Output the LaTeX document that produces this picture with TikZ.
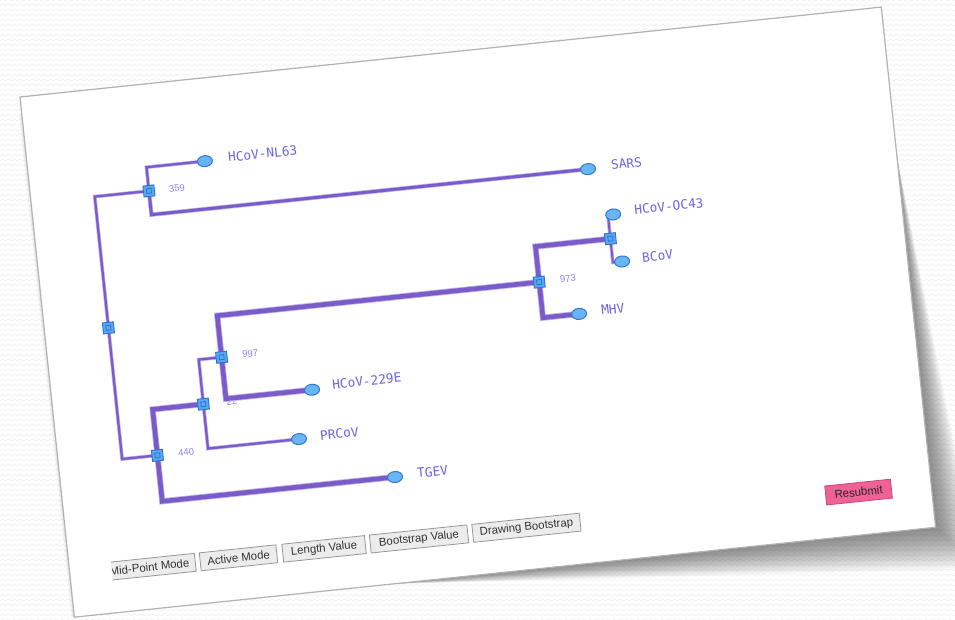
\documentclass[tikz,border=0pt]{standalone}
\usepackage{fontspec}
\newfontfamily\labfont{DejaVu Sans Mono}
\newfontfamily\uifont{Liberation Sans}
\usetikzlibrary{shapes.geometric,decorations.pathmorphing}
\definecolor{brcore}{RGB}{122,92,200}
\definecolor{brhalo}{RGB}{194,180,240}
\definecolor{labcol}{RGB}{108,98,232}
\definecolor{bscol}{RGB}{140,130,238}
\definecolor{sqfill}{RGB}{86,168,240}
\definecolor{sqdraw}{RGB}{45,115,205}
\definecolor{leaffill}{RGB}{105,180,242}
\definecolor{leafdraw}{RGB}{55,120,200}
\definecolor{btnfill}{RGB}{236,236,236}
\definecolor{btndraw}{RGB}{150,150,150}
\definecolor{pinkbtn}{RGB}{240,98,150}
\definecolor{pinkdraw}{RGB}{200,70,120}
\pgfdeclarelayer{back}
\pgfdeclarelayer{mid}
\pgfsetlayers{back,mid,main}
\tikzset{
  bgwave/.style={draw=gray!13, line width=0.5pt, decorate,
    decoration={zigzag, segment length=6pt, amplitude=1.1pt}},
  thinbr/.style={draw=brcore, line width=2.3pt, line join=miter,
    preaction={draw=brhalo, line width=3.7pt, line join=miter}},
  medbr/.style={draw=brcore, line width=3pt, line join=miter,
    preaction={draw=brhalo, line width=4.4pt, line join=miter}},
  thickbr/.style={draw=brcore, line width=4.6pt, line join=miter,
    preaction={draw=brhalo, line width=6.2pt, line join=miter}},
  inode/.style={rectangle, minimum size=11pt, inner sep=0pt, fill=sqfill,
    draw=sqdraw, line width=0.9pt, transform shape,
    path picture={\draw[sqdraw, line width=0.8pt]
      ([shift={(-2.4pt,-2.4pt)}]path picture bounding box.center) rectangle
      ([shift={(2.4pt,2.4pt)}]path picture bounding box.center);}},
  leaf/.style={ellipse, minimum width=15pt, minimum height=11pt, inner sep=0pt,
    fill=leaffill, draw=leafdraw, line width=1pt, transform shape},
  leaflab/.style={anchor=west, inner sep=0pt, text=labcol,
    font=\labfont\fontsize{12.8}{14}\selectfont, transform shape},
  bslab/.style={inner sep=0pt, text=bscol,
    font=\uifont\fontsize{9.5}{11}\selectfont, transform shape},
  btn/.style={rectangle, draw=btndraw, fill=btnfill, line width=0.8pt,
    minimum height=18pt, inner sep=0pt, text=black!80,
    font=\uifont\fontsize{11.4}{13}\selectfont, transform shape},
  cardbox/.style={fill=white, draw=gray!60, line width=1.2pt},
}
\begin{document}
\begin{tikzpicture}[x=1pt,y=1pt]
\clip (0,0) rectangle (955,-620);
\begin{pgfonlayer}{back}
  \fill[white] (0,0) rectangle (955,-620);
  \foreach \k in {0,...,125}{
    \draw[bgwave] (-5,-\k*5) -- (960,-\k*5);
  }
\end{pgfonlayer}
\begin{scope}[shift={(20,-97)}, rotate=5.96]
  % shadow and card
  \begin{pgfonlayer}{back}
    \foreach \d in {2,4,...,44}{
      \fill[black, opacity=0.024] (866,-150) -- (866+0.9*\d,-523-1.05*\d) -- (320,-523) -- cycle;
    }
    \foreach \d in {1,2,3}{
      \fill[black, opacity=0.03] (-\d,\d-20) rectangle (2,-523);
    }
    \path[cardbox] (0,0) rectangle (866,-523);
  \end{pgfonlayer}

  % internal nodes
  \node[inode] (root) at (64,-238.8) {};
  \node[inode] (n359) at (118.5,-106.85) {};
  \node[inode] (n440) at (99.5,-370.7) {};
  \node[inode] (nA)   at (150.5,-324.5) {};
  \node[inode] (n997) at (173.5,-279.75) {};
  \node[inode] (n973) at (497.2,-238) {};
  \node[inode] (nB)   at (572.5,-202.25) {};

  % leaves
  \node[leaf] (nl63)  at (177.3,-83) {};
  \node[leaf] (sars)  at (557.5,-130.7) {};
  \node[leaf] (oc43)  at (577.8,-178.4) {};
  \node[leaf] (bcov)  at (581.8,-226.1) {};
  \node[leaf] (mhv)   at (533.6,-273.8) {};
  \node[leaf] (e229)  at (260.1,-321.5) {};
  \node[leaf] (prcov) at (242,-369.2) {};
  \node[leaf] (tgev)  at (333.6,-416.9) {};

  % corners
  \coordinate (rt) at (64,-106.85);
  \coordinate (rb) at (64,-370.7);
  \coordinate (c359t) at (118.5,-83);
  \coordinate (c359b) at (118.5,-130.7);
  \coordinate (c440t) at (99.5,-324.5);
  \coordinate (c440b) at (99.5,-416.9);
  \coordinate (cAt) at (150.5,-279.75);
  \coordinate (cAb) at (150.5,-369.2);
  \coordinate (c997t) at (173.5,-238);
  \coordinate (c997b) at (173.5,-321.5);
  \coordinate (c973t) at (497.2,-202.25);
  \coordinate (c973b) at (497.2,-273.8);
  \coordinate (cBt) at (572.5,-178.4);
  \coordinate (cBb) at (572.5,-226.1);

  \begin{pgfonlayer}{mid}
    \node[bslab] (bsA) at (179,-325) {22};
    \draw[thinbr] (root.center) -- (rt) -- (n359.center);
    \draw[thinbr] (root.center) -- (rb) -- (n440.center);
    \draw[thinbr] (n359.center) -- (c359t) -- (nl63.center);
    \draw[medbr] (n359.center) -- (c359b) -- (sars.center);
    \draw[thinbr] (nA.center) -- (cAt) -- (n997.center);
    \draw[thinbr] (nA.center) -- (cAb) -- (prcov.center);
    \draw[thickbr] (n440.center) -- (c440t) -- (nA.center);
    \draw[thickbr] (n440.center) -- (c440b) -- (tgev.center);
    \draw[thickbr] (n997.center) -- (c997t) -- (n973.center);
    \draw[thickbr] (n997.center) -- (c997b) -- (e229.center);
    \draw[thickbr] (n973.center) -- (c973t) -- (nB.center);
    \draw[thickbr] (n973.center) -- (c973b) -- (mhv.center);
    \draw[thinbr, line width=2pt] (nB.center) -- (cBt) -- (oc43.center);
    \draw[thinbr, line width=2pt] (nB.center) -- (cBb) -- (bcov.center);
  \end{pgfonlayer}

  % leaf labels
  \node[leaflab] (tnl63)  at (200.6,-81.5) {HCoV-NL63};
  \node[leaflab] (tsars)  at (580.7,-129) {SARS};
  \node[leaflab] (toc43)  at (599.2,-176) {HCoV-OC43};
  \node[leaflab] (tbcov)  at (602,-224.5) {BCoV};
  \node[leaflab] (tmhv)   at (555.8,-272.5) {MHV};
  \node[leaflab] (te229)  at (280.6,-318.5) {HCoV-229E};
  \node[leaflab] (tprcov) at (263.2,-368) {PRCoV};
  \node[leaflab] (ttgev)  at (355.8,-415.5) {TGEV};

  % bootstrap values
  \node[bslab] (b359) at (146.7,-107) {359};
  \node[bslab] (b440) at (128.3,-370.5) {440};
  \node[bslab] (b997) at (202.2,-279) {997};
  \node[bslab] (b973) at (526.2,-237.6) {973};

  % buttons
  \begin{scope}
    \clip (42,-468) rectangle (128,-494);
    \node[btn, minimum width=92pt] (bmid) at (80,-481) {Mid-Point Mode};
  \end{scope}
  \node[btn, minimum width=77pt] (bact) at (169.5,-481) {Active Mode};
  \node[btn, minimum width=83pt] (blen) at (255.5,-481) {Length Value};
  \node[btn, minimum width=98pt] (bboot) at (351,-481) {Bootstrap Value};
  \node[btn, minimum width=108pt] (bdraw) at (459,-481) {Drawing Bootstrap};
  \node[btn, minimum width=66pt, minimum height=19pt, fill=pinkbtn, draw=pinkdraw, text=black!85] (bres) at (793,-480) {Resubmit};
\end{scope}
\end{tikzpicture}
\end{document}
